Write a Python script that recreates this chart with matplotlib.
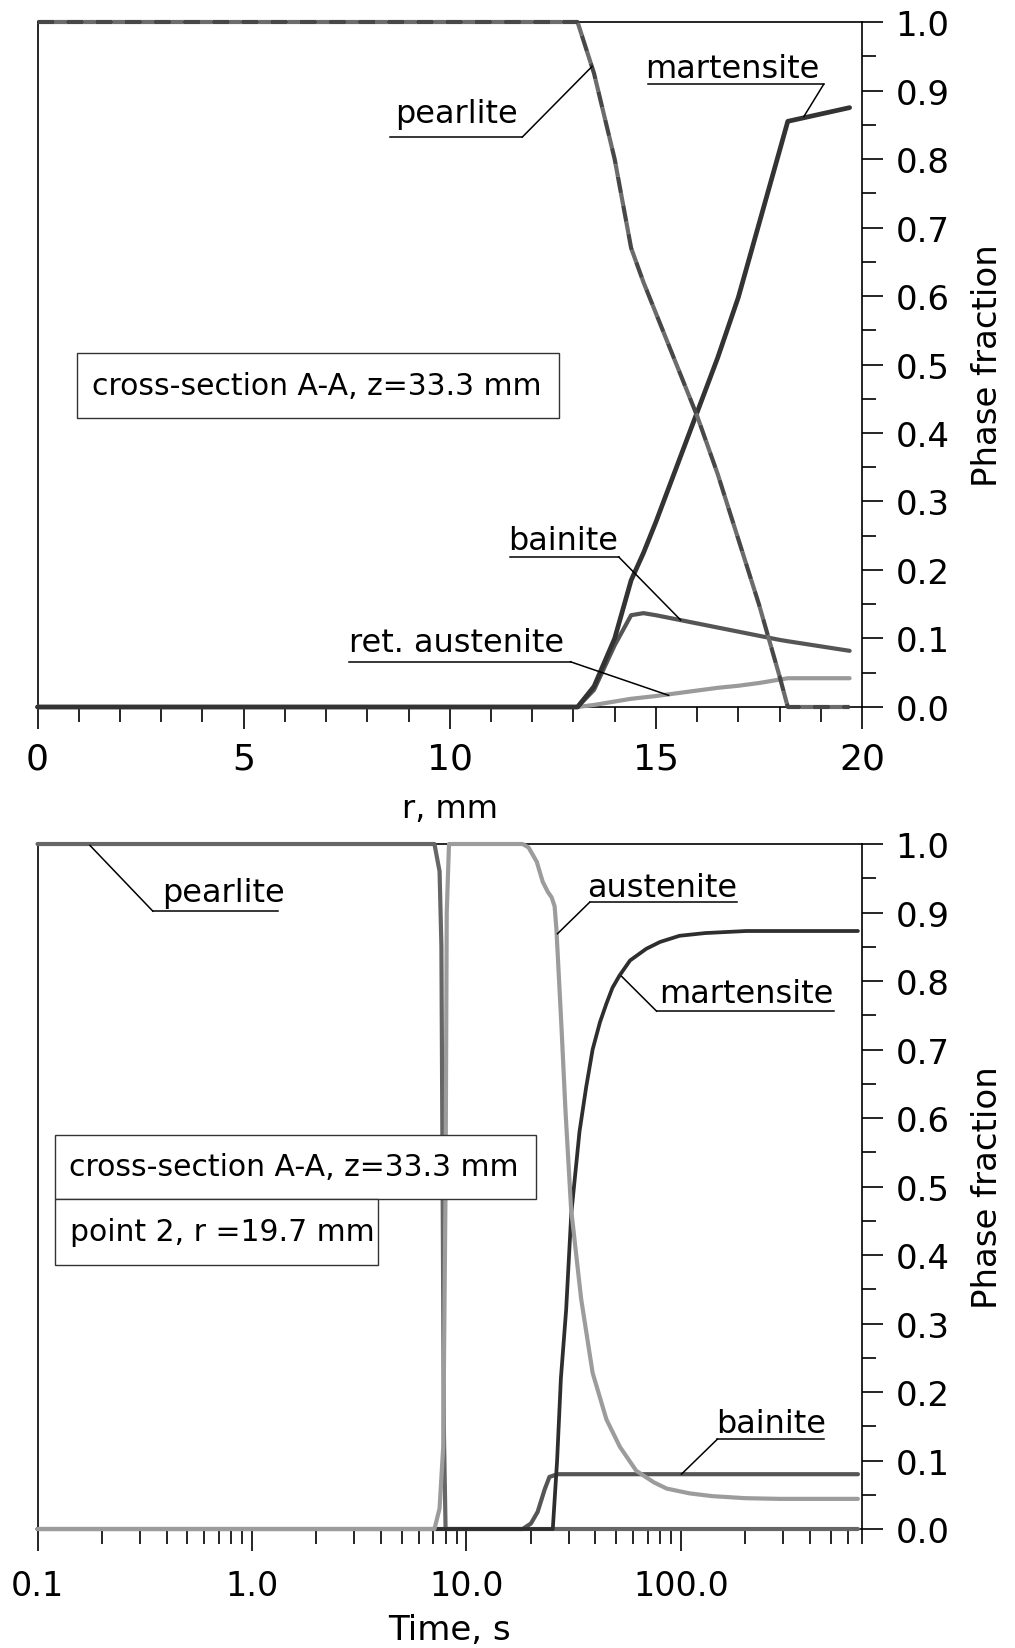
import matplotlib.pyplot as plt
import numpy as np
from matplotlib.patches import Rectangle
from matplotlib.ticker import MultipleLocator, LogLocator, NullFormatter, FormatStrFormatter

# --- top panel: phase fraction along the radius (cross-section A-A) ---
r_mm = [0, 13.1, 13.5, 14.0, 14.4, 14.7, 15.0, 15.5, 16.0, 16.5, 17.0, 17.5, 18.0, 18.2, 19.7]
pearlite_r = [1.0, 1.0, 0.925, 0.80, 0.67, 0.62, 0.575, 0.50, 0.425, 0.34, 0.245, 0.15, 0.045, 0.0, 0.0]
martensite_r = [0, 0, 0.03, 0.10, 0.185, 0.225, 0.27, 0.35, 0.43, 0.51, 0.598, 0.705, 0.812, 0.855, 0.875]
bainite_r = [0, 0, 0.025, 0.09, 0.134, 0.137, 0.134, 0.128, 0.122, 0.116, 0.110, 0.104, 0.098, 0.096, 0.082]
ret_aust_r = [0, 0, 0.003, 0.008, 0.012, 0.014, 0.016, 0.020, 0.024, 0.028, 0.031, 0.035, 0.040, 0.042, 0.042]

# --- bottom panel: phase fraction vs time at point 2 ---
t_pearlite = [0.1, 7.1, 7.5, 7.65, 7.75, 7.85, 8.0, 670]
pearlite_t = [1.0, 1.0, 0.96, 0.85, 0.5, 0.15, 0.0, 0.0]

t_austenite = [0.1, 7.1, 7.5, 7.8, 8.0, 8.1, 8.3, 18.3, 19.5, 21.3, 22.7, 24.0, 25.0, 25.8, 26.3, 27.8,
               29.0, 30.8, 34.3, 38.8, 45, 52, 62, 75, 86, 110, 140, 200, 290, 670]
austenite_t = [0, 0, 0.03, 0.12, 0.5, 0.9, 1.0, 1.0, 0.995, 0.974, 0.945, 0.93, 0.922, 0.909, 0.876, 0.73,
               0.61, 0.467, 0.336, 0.228, 0.160, 0.12, 0.085, 0.068, 0.059, 0.052, 0.048, 0.045, 0.044, 0.044]

t_martensite = [0.1, 25.3, 26.5, 27.6, 29.2, 30.85, 33.7, 36.2, 38.8, 42, 45, 48, 51.8, 58, 69, 80, 98.6,
                130, 202, 670]
martensite_t = [0, 0, 0.10, 0.22, 0.32, 0.46, 0.58, 0.645, 0.70, 0.74, 0.767, 0.79, 0.808, 0.83, 0.847,
                0.857, 0.866, 0.870, 0.873, 0.873]

t_bainite = [0.1, 18.3, 20.0, 21.5, 23.2, 24.4, 26.6, 670]
bainite_t = [0, 0, 0.008, 0.025, 0.058, 0.076, 0.080, 0.080]

box_text = "cross-section A-A, z=33.3 mm"
point_text = "point 2, r =19.7 mm"


def callout(ax, text, tip, ul_x, ul_y, near, dx=0, dy=6):
    # leader line from the curve to one end of the underline, text sits on it
    x0, x1 = ul_x
    end = x1 if near == "right" else x0
    ax.plot([tip[0], end], [tip[1], ul_y], color="k", lw=1.1, clip_on=False, zorder=5)
    ax.plot([x0, x1], [ul_y, ul_y], color="k", lw=1.1, clip_on=False, zorder=5)
    ax.annotate(text, (x0, ul_y), xytext=(dx, dy), textcoords="offset points",
                ha="left", va="baseline", fontsize=23)


def text_box(ax, text, x_text, y_text, box):
    # box = (x0, y0, x1, y1) in axes fraction
    x0, y0, x1, y1 = box
    ax.add_patch(Rectangle((x0, y0), x1 - x0, y1 - y0, transform=ax.transAxes,
                           fc="white", ec="#333333", lw=1.0, zorder=6))
    ax.text(x_text, y_text, text, transform=ax.transAxes, fontsize=21.5,
            ha="left", va="center", zorder=7)


def style_axes(ax):
    for s in ax.spines.values():
        s.set_linewidth(1.2)
    ax.set_ylim(0, 1)
    ax.yaxis.set_major_locator(MultipleLocator(0.1))
    ax.yaxis.set_minor_locator(MultipleLocator(0.05))
    ax.yaxis.set_major_formatter(FormatStrFormatter("%.1f"))
    ax.tick_params(axis="y", which="both", left=False, right=True,
                   labelleft=False, labelright=True, direction="out", width=1.2)
    ax.tick_params(axis="y", which="major", length=15, pad=9, labelsize=24.5)
    ax.tick_params(axis="y", which="minor", length=10)
    ax.tick_params(axis="x", which="both", top=False, bottom=True, direction="out", width=1.2)
    ax.tick_params(axis="x", which="major", length=16)
    ax.tick_params(axis="x", which="minor", length=10.5)
    ax.yaxis.set_label_position("right")
    ax.set_ylabel("Phase fraction", fontsize=24.5)
    ax.yaxis.set_label_coords(1.132, 0.5)


fig = plt.figure(figsize=(10.15, 16.49), dpi=100)

# ---------------- top ----------------
ax1 = fig.add_axes([0.03695, 0.57065, 0.8123, 0.4154])
style_axes(ax1)
ax1.set_xlim(0, 20)
ax1.xaxis.set_major_locator(MultipleLocator(5))
ax1.xaxis.set_minor_locator(MultipleLocator(1))
ax1.tick_params(axis="x", which="major", labelsize=26, pad=9)

lw = 3.0
ax1.plot(r_mm, ret_aust_r, color="#9a9a9a", lw=lw, clip_on=False, solid_capstyle="round", zorder=3)
ax1.plot(r_mm, bainite_r, color="#555555", lw=lw, clip_on=False, solid_capstyle="round", zorder=3)
ax1.plot(r_mm, martensite_r, color="#333333", lw=3.4, clip_on=False, solid_capstyle="round", zorder=3)
ax1.plot(r_mm, pearlite_r, color="#474747", gapcolor="#6c6c6c", linestyle=(0, (4, 3)),
         lw=lw, clip_on=False, zorder=3)

ax1.set_xlabel("r, mm", fontsize=23)
ax1.xaxis.set_label_coords(0.5, -0.1255)

callout(ax1, "pearlite", (13.45, 0.935), (8.56, 11.76), 0.832, "right", dx=3.5, dy=10.5)
callout(ax1, "martensite", (18.59, 0.862), (14.8, 19.07), 0.909, "right", dx=-1.5, dy=5.5)
callout(ax1, "bainite", (15.6, 0.127), (11.47, 14.1), 0.219, "right", dx=-1.5, dy=5.5)
callout(ax1, "ret. austenite", (15.31, 0.017), (7.56, 12.93), 0.066, "right", dx=0, dy=8)

text_box(ax1, box_text, 0.0657, 0.469, (0.0475, 0.4215, 0.6329, 0.5168))

# ---------------- bottom ----------------
ax2 = fig.add_axes([0.03695, 0.07216, 0.8123, 0.4154])
style_axes(ax2)
ax2.set_xscale("log")
ax2.set_xlim(0.1, 700)
ax2.set_xticks([0.1, 1, 10, 100])
ax2.set_xticklabels(["0.1", "1.0", "10.0", "100.0"])
ax2.xaxis.set_minor_locator(LogLocator(base=10, subs=np.arange(2, 10)))
ax2.xaxis.set_minor_formatter(NullFormatter())
ax2.tick_params(axis="x", which="major", labelsize=24, pad=13)

ax2.plot(t_pearlite, pearlite_t, color="#666666", lw=lw, clip_on=False, solid_capstyle="round", zorder=3)
ax2.plot(t_bainite, bainite_t, color="#555555", lw=lw, clip_on=False, solid_capstyle="round", zorder=3)
ax2.plot(t_martensite, martensite_t, color="#2e2e2e", lw=2.7, clip_on=False, solid_capstyle="round", zorder=3)
ax2.plot(t_austenite, austenite_t, color="#9c9c9c", lw=lw, clip_on=False, solid_capstyle="round", zorder=3)

ax2.set_xlabel("Time, s", fontsize=24.5)
ax2.xaxis.set_label_coords(0.5, -0.1226)

callout(ax2, "pearlite", (0.1756, 0.998), (0.345, 1.32), 0.902, "left", dx=7, dy=7)
callout(ax2, "austenite", (26.6, 0.869), (37.6, 183.6), 0.915, "left", dx=-2, dy=4.5)
callout(ax2, "martensite", (52.9, 0.807), (77.1, 520), 0.756, "left", dx=2, dy=6.5)
callout(ax2, "bainite", (100.7, 0.080), (148, 468), 0.131, "left", dx=-1, dy=5)

text_box(ax2, box_text, 0.0386, 0.5285, (0.0212, 0.4818, 0.6046, 0.5752))
text_box(ax2, point_text, 0.0394, 0.4336, (0.0212, 0.3858, 0.4133, 0.4818))

fig.savefig("out.png", dpi=100)
